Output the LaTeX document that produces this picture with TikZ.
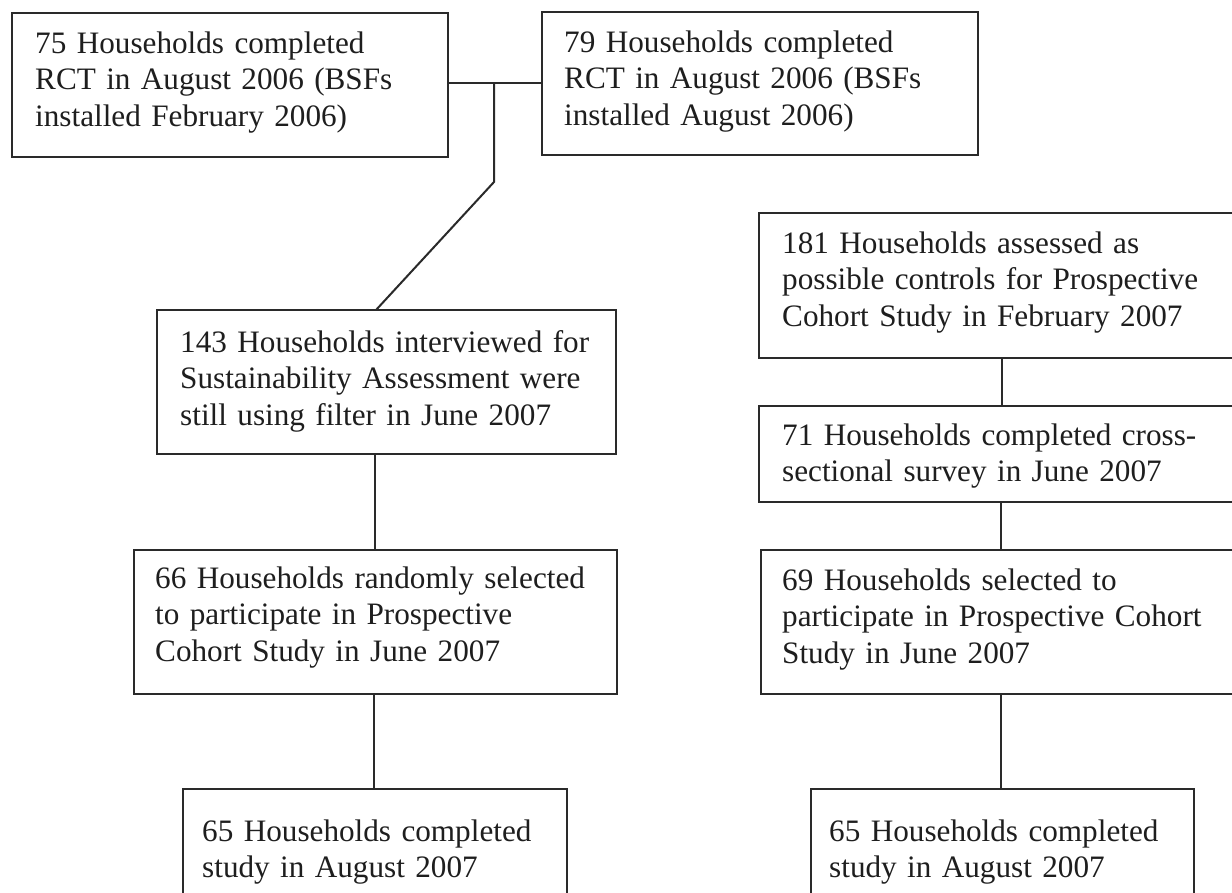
\documentclass[tikz,border=0pt]{standalone}
\usepackage{fontspec}
\setmainfont{Liberation Serif}
\definecolor{ink}{HTML}{1E1E1E}
\definecolor{rule}{HTML}{2A2A2A}
\begin{document}
\begin{tikzpicture}[x=1pt,y=-1pt,
  boxnode/.style={draw=rule,line width=2.4pt,rectangle,inner sep=0pt,outer sep=0pt,anchor=north west},
  txt/.style={anchor=base west,inner sep=0pt,text width=520pt,align=left,text=ink,
    font=\fontsize{31.2pt}{36.7pt}\selectfont},
  link/.style={draw=rule,line width=2pt}]
\useasboundingbox (0,0) rectangle (1232,892);
\clip (0,0) rectangle (1232,892);
\fill[white] (0,0) rectangle (1232,892);
% boxes
\node[boxnode,minimum width=436pt,minimum height=144pt] (A) at (12,13) {};
\node[boxnode,minimum width=436pt,minimum height=143pt] (B) at (542,12) {};
\node[boxnode,minimum width=459pt,minimum height=144pt] (C) at (157,310) {};
\node[boxnode,minimum width=483pt,minimum height=144pt] (D) at (134,550) {};
\node[boxnode,minimum width=384pt,minimum height=171pt] (E) at (183,789) {};
\node[boxnode,minimum width=501pt,minimum height=145pt] (H) at (759,213) {};
\node[boxnode,minimum width=501pt,minimum height=96pt] (I) at (759,406) {};
\node[boxnode,minimum width=499pt,minimum height=144pt] (F) at (761,550) {};
\node[boxnode,minimum width=383pt,minimum height=171pt] (G) at (811,789) {};
% texts
\node[txt] (tA) at (35,53) {75 Households completed\\RCT in August 2006 (BSFs\\installed February 2006)};
\node[txt] (tB) at (564,52) {79 Households completed\\RCT in August 2006 (BSFs\\installed August 2006)};
\node[txt] (tC) at (180,352) {143 Households interviewed for\\Sustainability Assessment were\\still using filter in June 2007};
\node[txt] (tD) at (155,588) {66 Households randomly selected\\to participate in Prospective\\Cohort Study in June 2007};
\node[txt] (tE) at (202,841) {65 Households completed\\study in August 2007};
\node[txt] (tH) at (782,253) {181 Households assessed as\\possible controls for Prospective\\Cohort Study in February 2007};
\node[txt] (tI) at (782,445) {71 Households completed cross-\\sectional survey in June 2007};
\node[txt] (tF) at (782,590) {69 Households selected to\\participate in Prospective Cohort\\Study in June 2007};
\node[txt] (tG) at (829,841) {65 Households completed\\study in August 2007};
% connector coordinates
\coordinate (J) at (494,83);
\coordinate (K) at (494,182);
\coordinate (Cin) at (376,310);
\coordinate (L1) at (375,0);
\coordinate (L2) at (374,0);
\coordinate (R1) at (1002,0);
\coordinate (R2) at (1001,0);
% connectors
\draw[link] (J -| A.east) -- (J -| B.west);
\draw[link] (J) -- (K) -- (Cin);
\draw[link] (C.south -| L1) -- (D.north -| L1);
\draw[link] (D.south -| L2) -- (E.north -| L2);
\draw[link] (H.south -| R1) -- (I.north -| R1);
\draw[link] (I.south -| R2) -- (F.north -| R2);
\draw[link] (F.south -| R2) -- (G.north -| R2);
\end{tikzpicture}
\end{document}
